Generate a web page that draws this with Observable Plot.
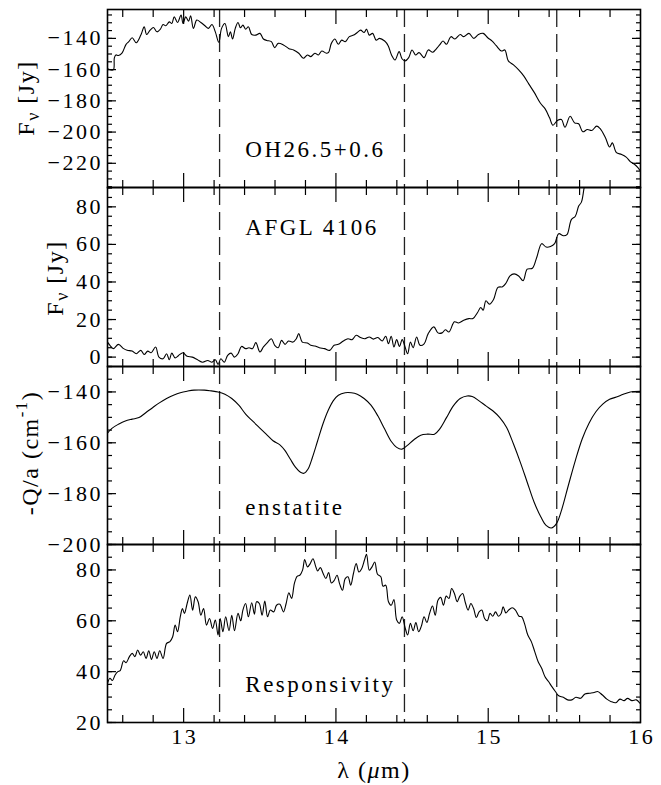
<!DOCTYPE html>
<html><head><meta charset="utf-8">
<script src="https://cdn.jsdelivr.net/npm/d3@7"></script>
<script src="https://cdn.jsdelivr.net/npm/@observablehq/plot@0.6"></script>
<style>
body{margin:0;background:#fff;}
#wrap{position:relative;width:661px;height:785px;font-family:"Liberation Serif",serif;color:#000;overflow:hidden;}
#wrap svg{position:absolute;left:0;font-family:"Liberation Serif",serif !important;}
#wrap svg text{font-family:"Liberation Serif",serif !important;letter-spacing:2.5px;}
.t{position:absolute;white-space:nowrap;font-size:24px;line-height:1;font-family:"Liberation Serif",serif;letter-spacing:1.5px;}
.ylab{transform:translate(-50%,-50%) rotate(-90deg);}
.xlab{transform:translate(-50%,-50%);}
sub{font-size:0.75em;vertical-align:-0.3em;}
sup{font-size:0.7em;vertical-align:0.6em;}
</style></head><body><div id="wrap"></div>
<script>
// ---- data ----
const lam1 = [12.500,12.538,12.545,12.555,12.572,12.595,12.622,12.640,12.662,12.689,12.719,12.741,12.757,12.780,12.802,12.825,12.847,12.865,12.883,12.906,12.922,12.938,12.960,12.983,12.996,13.014,13.032,13.046,13.064,13.086,13.113,13.140,13.163,13.186,13.208,13.231,13.249,13.271,13.294,13.307,13.321,13.339,13.357,13.373,13.389,13.407,13.425,13.447,13.474,13.501,13.524,13.546,13.576,13.598,13.621,13.655,13.689,13.722,13.756,13.786,13.813,13.835,13.862,13.885,13.907,13.937,13.952,13.970,13.993,14.016,14.038,14.061,14.088,14.117,14.140,14.162,14.185,14.201,14.219,14.241,14.264,14.286,14.320,14.343,14.365,14.388,14.415,14.435,14.455,14.478,14.500,14.523,14.546,14.579,14.606,14.636,14.658,14.681,14.703,14.726,14.755,14.782,14.816,14.839,14.873,14.906,14.936,14.967,14.997,15.026,15.053,15.087,15.109,15.132,15.166,15.200,15.233,15.267,15.301,15.342,15.373,15.403,15.425,15.454,15.481,15.504,15.538,15.567,15.594,15.621,15.651,15.680,15.712,15.734,15.770,15.797,15.815,15.842,15.876,15.906,15.933,15.960,15.983,15.995];
const ohFlux = [-159.5,-160.2,-152.5,-150.6,-151.0,-149.5,-143.8,-142.1,-139.6,-142.8,-137.9,-132.6,-137.5,-134.7,-133.0,-135.8,-134.1,-131.1,-131.9,-129.4,-130.5,-126.2,-129.8,-125.1,-130.5,-126.2,-129.0,-125.6,-133.6,-128.3,-129.8,-131.9,-133.6,-131.1,-135.8,-142.5,-133.6,-130.5,-138.9,-135.8,-140.4,-133.6,-129.8,-133.2,-131.5,-134.1,-132.6,-137.5,-137.9,-136.8,-140.4,-141.3,-142.1,-145.9,-143.2,-144.2,-146.4,-147.4,-149.5,-152.7,-150.6,-151.7,-149.5,-150.6,-148.1,-149.5,-148.9,-143.2,-140.4,-143.8,-141.1,-142.1,-138.9,-137.9,-136.2,-134.7,-136.2,-134.1,-137.9,-136.8,-141.1,-140.0,-141.7,-144.7,-150.6,-153.8,-148.5,-153.2,-154.4,-152.3,-147.4,-150.6,-149.1,-152.3,-147.4,-148.9,-146.8,-144.2,-141.7,-143.8,-138.9,-140.4,-137.5,-138.9,-136.8,-140.0,-137.5,-136.8,-139.6,-141.7,-144.7,-148.1,-147.4,-154.4,-157.0,-160.2,-164.0,-169.3,-174.4,-181.4,-185.0,-190.9,-195.6,-192.6,-192.0,-196.9,-189.9,-194.1,-194.7,-199.8,-198.4,-199.0,-196.2,-197.7,-203.7,-209.6,-206.9,-213.2,-214.3,-216.0,-218.9,-220.6,-222.8,-224.4];

const lam2 = [12.500,12.516,12.538,12.572,12.606,12.629,12.662,12.689,12.719,12.741,12.764,12.786,12.816,12.838,12.865,12.888,12.906,12.922,12.944,12.967,12.996,13.023,13.057,13.091,13.125,13.158,13.186,13.208,13.226,13.244,13.267,13.289,13.312,13.334,13.357,13.380,13.407,13.429,13.452,13.474,13.501,13.524,13.553,13.576,13.598,13.621,13.643,13.666,13.689,13.718,13.740,13.756,13.779,13.813,13.835,13.862,13.891,13.925,13.959,13.988,14.016,14.049,14.079,14.106,14.133,14.162,14.191,14.219,14.246,14.275,14.304,14.327,14.345,14.363,14.381,14.399,14.417,14.435,14.453,14.471,14.489,14.507,14.530,14.552,14.579,14.606,14.643,14.670,14.697,14.719,14.742,14.778,14.805,14.839,14.873,14.900,14.929,14.951,14.967,14.985,15.008,15.035,15.064,15.094,15.116,15.143,15.170,15.200,15.229,15.256,15.290,15.319,15.351,15.380,15.409,15.436,15.463,15.494,15.517,15.546,15.572,15.594,15.612,15.628,15.639];
const afglFlux = [8.0,6.3,4.5,6.8,4.5,3.6,3.2,1.8,3.6,1.4,3.2,2.3,5.4,0,-0.9,1.8,-1.4,2.1,-0.4,0.9,2.3,0.4,0,-1.4,-2.7,-1.8,-2.7,-1.4,-3.9,-0.9,-2.7,0.9,2.1,0,1.8,5.7,4.5,5.0,4.5,7.7,2.7,5.4,8.0,9.8,6.3,5.0,8.9,6.8,8.6,8.0,9.8,12.5,8.0,7.5,6.3,5.9,5.0,4.5,3.6,6.3,6.8,8.6,9.8,9.3,11.6,10.4,9.8,10.7,9.6,10.4,8.6,11.1,7.1,11.1,5.4,9.3,5.7,9.3,5.7,1.8,8.0,5.0,10.7,6.3,7.1,12.5,16.1,12.9,12.9,14.6,13.4,18.8,18.2,19.6,20.5,20.5,23.6,26.4,25.0,30.0,28.2,30.7,37.1,37.5,39.3,43.2,44.3,43.2,40.7,46.8,47.3,53.2,60.4,58.6,58.9,60.4,65.7,64.6,65.2,73.2,75.0,80.4,82.5,89.3,95.0];

const lam3 = [12.500,12.527,12.572,12.617,12.662,12.707,12.753,12.798,12.843,12.888,12.933,12.978,13.023,13.068,13.136,13.181,13.226,13.271,13.316,13.362,13.407,13.452,13.497,13.542,13.587,13.632,13.666,13.700,13.734,13.767,13.790,13.817,13.846,13.880,13.914,13.948,13.982,14.016,14.061,14.101,14.140,14.185,14.230,14.275,14.320,14.365,14.399,14.433,14.467,14.512,14.557,14.602,14.647,14.681,14.726,14.771,14.816,14.861,14.895,14.940,14.985,15.030,15.076,15.121,15.166,15.211,15.256,15.301,15.346,15.380,15.414,15.448,15.481,15.526,15.572,15.617,15.662,15.707,15.752,15.797,15.842,15.887,15.933,16.000];
const enstatite = [-156.2,-154.4,-152.7,-151.4,-150.7,-150.1,-148.1,-146.1,-144.2,-142.6,-141.3,-140.3,-139.7,-139.3,-139.3,-139.6,-140.0,-140.9,-142.6,-145.2,-148.7,-151.4,-154.0,-156.6,-159.2,-160.8,-163.1,-166.4,-169.6,-171.6,-172.0,-170.3,-165.7,-159.2,-152.7,-147.4,-143.5,-141.3,-140.3,-140.3,-140.9,-142.6,-145.2,-149.4,-154.6,-159.6,-161.8,-162.5,-161.1,-158.8,-157.0,-156.6,-156.6,-154.6,-150.1,-145.5,-142.6,-141.6,-141.8,-143.5,-145.5,-147.4,-150.1,-154.0,-160.5,-167.7,-175.5,-183.3,-189.2,-192.5,-193.5,-191.8,-186.6,-176.8,-167.0,-158.5,-152.3,-147.8,-144.8,-142.9,-142.0,-140.9,-140.0,-139.7];

const lam4 = [12.500,12.516,12.532,12.550,12.568,12.583,12.606,12.622,12.644,12.662,12.680,12.698,12.717,12.735,12.753,12.771,12.789,12.807,12.825,12.843,12.865,12.888,12.910,12.928,12.944,12.960,12.978,12.992,13.005,13.023,13.041,13.059,13.077,13.095,13.113,13.131,13.150,13.170,13.190,13.208,13.226,13.240,13.258,13.276,13.298,13.316,13.334,13.357,13.375,13.389,13.407,13.425,13.447,13.465,13.479,13.497,13.515,13.533,13.551,13.569,13.592,13.610,13.632,13.655,13.673,13.691,13.709,13.727,13.745,13.763,13.781,13.795,13.813,13.831,13.849,13.867,13.880,13.898,13.916,13.934,13.952,13.970,13.988,14.007,14.025,14.043,14.061,14.079,14.097,14.115,14.133,14.151,14.169,14.187,14.201,14.219,14.237,14.255,14.273,14.295,14.309,14.327,14.345,14.363,14.381,14.399,14.417,14.435,14.453,14.471,14.489,14.507,14.525,14.543,14.561,14.579,14.597,14.615,14.634,14.652,14.670,14.688,14.706,14.724,14.742,14.760,14.778,14.796,14.814,14.832,14.850,14.868,14.886,14.904,14.922,14.940,14.958,14.976,14.994,15.012,15.030,15.048,15.067,15.085,15.098,15.116,15.134,15.157,15.179,15.202,15.220,15.238,15.260,15.283,15.306,15.328,15.351,15.373,15.396,15.418,15.441,15.463,15.493,15.522,15.549,15.576,15.606,15.635,15.666,15.696,15.718,15.748,15.779,15.808,15.838,15.865,15.892,15.915,15.944,15.973,15.996];
const responsivity = [35.4,37.4,36.5,38.7,40.0,40.4,44.3,43.5,45.9,47.2,45.9,48.5,46.5,47.8,45.2,48.2,44.8,47.8,45.2,48.2,45.2,51.1,51.8,53.7,58.3,55.7,61.6,64.8,62.9,66.8,70.1,64.2,69.4,67.5,62.2,64.8,58.3,60.9,57.0,60.3,54.4,60.9,55.7,61.6,56.1,62.2,56.1,62.9,60.0,64.2,66.8,61.6,67.1,62.6,67.5,66.8,62.2,67.8,61.6,64.2,63.5,66.1,66.5,63.5,66.8,71.0,68.8,74.6,77.5,77.9,79.9,84.1,81.2,82.5,84.4,81.4,79.6,80.9,78.6,76.6,79.0,74.9,75.8,77.9,74.4,72.0,76.6,77.3,74.0,78.6,82.5,79.2,80.5,83.8,86.1,79.9,81.2,83.1,78.3,77.3,73.6,74.0,67.5,66.1,68.4,60.3,59.0,61.6,57.6,54.4,59.0,56.1,59.3,55.7,57.9,61.6,59.3,62.9,65.8,62.2,68.1,69.2,66.1,69.7,68.8,72.7,70.7,67.5,69.7,70.7,67.1,64.2,66.8,64.8,61.3,63.5,64.2,60.9,60.0,62.9,61.8,63.5,61.8,62.9,65.5,63.1,64.2,65.1,64.2,61.8,61.6,59.0,54.4,51.8,47.8,43.9,41.3,38.0,36.1,34.1,32.2,30.5,29.9,28.9,28.9,29.9,29.5,31.2,31.5,31.8,32.2,30.9,29.2,28.2,27.8,29.2,28.6,29.5,28.6,28.9,27.6];

const dashedLines = [13.236, 14.45, 15.45];
const xMajorTicks = [13, 14, 15];
const xTickLabels = [13, 14, 15, 16];
const xMinorTicks = [12.6,12.8,13.2,13.4,13.6,13.8,14.2,14.4,14.6,14.8,15.2,15.4,15.6,15.8];
const panelLabels = ["OH26.5+0.6", "AFGL 4106", "enstatite", "Responsivity"];
const labelX = 13.405;
const labelY = [-211, 69, -185.4, 34.8];

const panels = [
  {lam: lam1, val: ohFlux, top: 9, bottom: 187, domain: [-235.5, -121.5], major: [-220,-200,-180,-160,-140], minor: d3.range(-235, -120, 5)},
  {lam: lam2, val: afglFlux, top: 187, bottom: 366, domain: [-5, 90.3], major: [0,20,40,60,80], minor: d3.range(-5, 91, 5)},
  {lam: lam3, val: enstatite, top: 366, bottom: 544, domain: [-200, -130], major: [-200,-180,-160,-140], minor: d3.range(-200, -129, 5)},
  {lam: lam4, val: responsivity, top: 544, bottom: 722, domain: [20, 90], major: [20,40,60,80], minor: d3.range(20, 91, 5)}
];

const FONT = "Liberation Serif";
const wrap = document.getElementById("wrap");
panels.forEach((p, k) => {
  const last = k === panels.length - 1;
  const mt = 20, mb = last ? 60 : 20;
  const data = p.lam.map((x, i) => ({x, y: p.val[i]}));
  const svg = Plot.plot({
    width: 661,
    height: (p.bottom - p.top) + mt + mb,
    marginLeft: 107, marginRight: 21, marginTop: mt, marginBottom: mb,
    style: {fontFamily: FONT, fontSize: "22px", background: "transparent", overflow: "visible", color: "#000"},
    x: {domain: [12.5, 16]},
    y: {domain: p.domain},
    marks: [
      Plot.ruleX(dashedLines, {stroke: "#222", strokeWidth: 1.3, strokeDasharray: "18,7"}),
      Plot.line(data, {x: "x", y: "y", stroke: "#000", strokeWidth: 1.1, curve: "catmull-rom", clip: true}),
      Plot.axisX({anchor: "bottom", ticks: xMinorTicks, tickSize: -7, fill: "none", label: null, strokeWidth: 1.2}),
      Plot.axisX({anchor: "bottom", ticks: xMajorTicks, tickSize: -14, fill: "none", label: null, strokeWidth: 1.2}),
      Plot.axisX({anchor: "top", ticks: xMinorTicks, tickSize: -7, fill: "none", label: null, strokeWidth: 1.2}),
      Plot.axisX({anchor: "top", ticks: xMajorTicks, tickSize: -14, fill: "none", label: null, strokeWidth: 1.2}),
      Plot.axisY({anchor: "left", ticks: p.minor, tickSize: -5, fill: "none", label: null, strokeWidth: 1.2}),
      Plot.axisY({anchor: "left", ticks: p.major, tickSize: -9, fill: "none", label: null, strokeWidth: 1.2}),
      Plot.axisY({anchor: "right", ticks: p.minor, tickSize: -5, fill: "none", label: null, strokeWidth: 1.2}),
      Plot.axisY({anchor: "right", ticks: p.major, tickSize: -9, fill: "none", label: null, strokeWidth: 1.2}),
      Plot.axisY({anchor: "left", ticks: p.major, tickSize: 0, tickPadding: 4.5, label: null, fontSize: 22, fontFamily: FONT}),
      last ? Plot.axisX({anchor: "bottom", ticks: xTickLabels, tickFormat: d => String(d), tickSize: 0, tickPadding: 6, label: null, fontSize: 22, fontFamily: FONT, dx: 1.2}) : null,
      Plot.text([{x: labelX, y: labelY[k], t: panelLabels[k]}], {x: "x", y: "y", text: "t", textAnchor: "start", fontSize: 23, fontFamily: FONT, fill: "#000"}),
      Plot.frame({stroke: "#000", strokeWidth: 1.6})
    ]
  });
  svg.style.top = (p.top - mt) + "px";
  wrap.appendChild(svg);
});

function addText(html, cls, x, y) {
  const d = document.createElement("div");
  d.className = "t " + cls;
  d.innerHTML = html;
  d.style.left = x + "px";
  d.style.top = y + "px";
  wrap.appendChild(d);
}
addText("F<sub>ν</sub> [Jy]", "ylab", 28, 98);
addText("F<sub>ν</sub> [Jy]", "ylab", 57, 278);
addText("-Q/a (cm<sup>-1</sup>)", "ylab", 28, 453);
addText("λ (<i>μ</i>m)", "xlab", 374, 770);
</script></body></html>
